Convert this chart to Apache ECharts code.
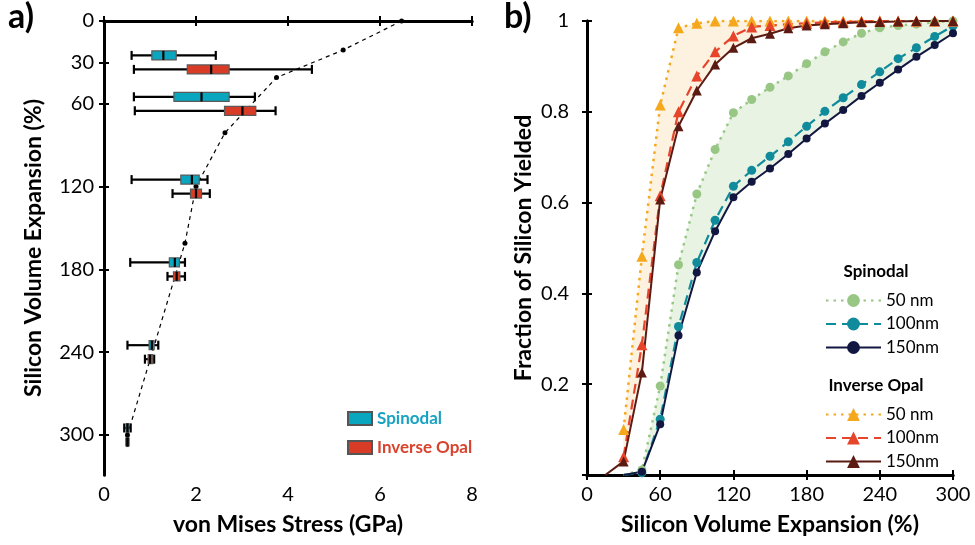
<!DOCTYPE html>
<html>
<head>
<meta charset="utf-8">
<script src="https://cdn.jsdelivr.net/npm/echarts@6/dist/echarts.min.js"></script>
<style>
  html, body { margin: 0; padding: 0; background: #fff; }
  #chart { width: 975px; height: 545px; }
</style>
</head>
<body>
<div id="chart"></div>
<script>
// ---- panel a) : stress box plots ----
var rowTicks = [0, 30, 60, 120, 180, 240, 300];
var expansionRows = [30, 60, 120, 180, 240, 300];
// [whisker low, q1, median, q3, whisker high]  (GPa)
var spinodalBoxes = [
  [0.60, 1.04, 1.29, 1.57, 2.43],
  [0.65, 1.52, 2.12, 2.72, 3.28],
  [0.60, 1.67, 1.91, 2.07, 2.25],
  [0.57, 1.42, 1.54, 1.64, 1.76],
  [0.51, 0.98, 1.04, 1.09, 1.18],
  [0.44, 0.48, 0.51, 0.54, 0.58]
];
var opalBoxes = [
  [0.65, 1.81, 2.33, 2.72, 4.52],
  [0.67, 2.62, 3.01, 3.30, 3.73],
  [1.49, 1.88, 2.00, 2.12, 2.30],
  [1.38, 1.51, 1.58, 1.65, 1.76],
  [0.89, 0.96, 1.00, 1.06, 1.09],
  [0.49, 0.50, 0.51, 0.52, 0.53]
];
// dashed trend line with dots
var trendExpansion = [0, 21, 41, 81, 120, 161, 300];
var trendStress = [6.47, 5.20, 3.75, 2.63, 2.00, 1.76, 0.51];

// ---- panel b) : fraction yielded ----
var expansion = [15, 30, 45, 60, 75, 90, 105, 120, 135, 150, 165, 180, 195, 210, 225, 240, 255, 270, 285, 300];
var sp50  = [null, 0, 0.011, 0.196, 0.463, 0.619, 0.717, 0.798, 0.827, 0.854, 0.879, 0.906, 0.932, 0.954, 0.973, 0.985, 0.990, 0.993, 0.997, 1.0];
var sp100 = [null, 0, 0.005, 0.123, 0.327, 0.468, 0.561, 0.636, 0.671, 0.702, 0.734, 0.768, 0.801, 0.831, 0.860, 0.888, 0.917, 0.941, 0.966, 0.989];
var sp150 = [null, 0, 0.007, 0.112, 0.307, 0.446, 0.537, 0.612, 0.646, 0.675, 0.707, 0.741, 0.774, 0.804, 0.835, 0.864, 0.893, 0.921, 0.947, 0.973];
var io50  = [null, 0.10, 0.482, 0.815, 0.985, 0.995, 1, 1, 1, 1, 1, 1, 1, 1, 1, 1, 1, 1, 1, 1];
var io100 = [null, 0.04, 0.287, 0.615, 0.800, 0.879, 0.932, 0.967, 0.987, 0.990, 0.993, 0.995, 0.997, 0.998, 0.999, 1, 1, 1, 1, 1];
var io150 = [0, 0.03, 0.226, 0.607, 0.768, 0.847, 0.904, 0.941, 0.962, 0.972, 0.984, 0.990, 0.993, 0.995, 0.997, 0.998, 0.999, 1, 1, 1];

var FONT = 'Lato';
var legendLabels = {
  'sp50': '50 nm', 'sp100': '100nm', 'sp150': '150nm',
  'io50': '50 nm', 'io100': '100nm', 'io150': '150nm'
};

function boxSeries(name, boxes, color, shift) {
  return {
    name: name,
    type: 'custom',
    xAxisIndex: 0,
    yAxisIndex: 0,
    z: 3,
    itemStyle: { color: color, borderColor: '#555', borderWidth: 1 },
    encode: { x: [1, 2, 3, 4, 5], y: 0 },
    data: expansionRows.map(function (r, i) { return [r].concat(boxes[i]); }),
    renderItem: function (params, api) {
      var row = api.value(0);
      var lo = api.coord([api.value(1), row]);
      var q1 = api.coord([api.value(2), row]);
      var md = api.coord([api.value(3), row]);
      var q3 = api.coord([api.value(4), row]);
      var hi = api.coord([api.value(5), row]);
      var y = lo[1] + shift, h = 9;
      function blk() { return { stroke: '#000', lineWidth: 2.2 }; }
      return {
        type: 'group',
        children: [
          { type: 'line', shape: { x1: lo[0], y1: y, x2: hi[0], y2: y }, style: blk() },
          { type: 'line', shape: { x1: lo[0], y1: y - h / 2, x2: lo[0], y2: y + h / 2 }, style: blk() },
          { type: 'line', shape: { x1: hi[0], y1: y - h / 2, x2: hi[0], y2: y + h / 2 }, style: blk() },
          { type: 'rect', shape: { x: q1[0], y: y - h / 2, width: q3[0] - q1[0], height: h },
            style: { fill: color, stroke: '#5a5a5a', lineWidth: 1.2 } },
          { type: 'line', shape: { x1: md[0], y1: y - h / 2, x2: md[0], y2: y + h / 2 }, style: blk() }
        ]
      };
    }
  };
}

function curve(name, values, color, lineType, width, symbol, size) {
  var pts = [];
  expansion.forEach(function (x, i) {
    if (values[i] == null) return;
    if (values[i] === 0) pts.push({ value: [x, 0], symbol: 'none' });
    else pts.push([x, values[i]]);
  });
  return {
    name: name,
    type: 'line',
    xAxisIndex: 2,
    yAxisIndex: 2,
    z: 4,
    data: pts,
    symbol: symbol,
    symbolSize: size,
    color: color,
    itemStyle: { color: color },
    lineStyle: { color: color, type: lineType, width: width },
    clip: true
  };
}

// shaded region between two curves, drawn as one polygon through the axis scales
function band(name, lower, upper, fill) {
  return {
    name: name,
    type: 'custom',
    xAxisIndex: 2,
    yAxisIndex: 2,
    z: 1,
    silent: true,
    data: [[0]],
    encode: { x: 0 },
    renderItem: function (params, api) {
      var top = [], bottom = [];
      expansion.forEach(function (x, i) {
        if (upper[i] == null || lower[i] == null) return;
        top.push(api.coord([x, upper[i]]));
        bottom.unshift(api.coord([x, lower[i]]));
      });
      return { type: 'polygon', shape: { points: top.concat(bottom) }, style: { fill: fill, stroke: fill, lineWidth: 0.5 } };
    }
  };
}

var tickStyle = { show: true, inside: false, length: 5, lineStyle: { color: '#000', width: 2 } };
var lineStyleAxis = { show: true, lineStyle: { color: '#000', width: 3 } };
var labelStyle = { color: '#000', fontSize: 20, fontFamily: FONT };
var nameStyle = { color: '#000', fontSize: 23, fontWeight: 'bold', fontFamily: FONT };

var chart = echarts.init(document.getElementById('chart'));

var option = {
  animation: false,
  backgroundColor: '#fff',
  grid: [
    { left: 104, top: 21, width: 368, height: 454 },
    { left: 587, top: 21, width: 366, height: 454 }
  ],
  xAxis: [
    { gridIndex: 0, type: 'value', min: 0, max: 8, interval: 2, position: 'bottom',
      axisLine: lineStyleAxis, axisTick: tickStyle, splitLine: { show: false },
      axisLabel: Object.assign({ margin: 10 }, labelStyle),
      name: 'von Mises Stress (GPa)', nameLocation: 'middle', nameGap: 38, nameTextStyle: nameStyle },
    { gridIndex: 0, type: 'value', min: 0, max: 8, interval: 2, position: 'top',
      axisLine: lineStyleAxis, axisTick: tickStyle, splitLine: { show: false }, axisLabel: { show: false } },
    { gridIndex: 1, type: 'value', min: 0, max: 300, interval: 60, position: 'bottom',
      axisLine: lineStyleAxis, axisTick: tickStyle, splitLine: { show: false },
      axisLabel: Object.assign({ margin: 10 }, labelStyle),
      name: 'Silicon Volume Expansion (%)', nameLocation: 'middle', nameGap: 38, nameTextStyle: nameStyle },
    { gridIndex: 1, type: 'value', min: 0, max: 300, interval: 60, position: 'top',
      axisLine: lineStyleAxis, axisTick: tickStyle, splitLine: { show: false }, axisLabel: { show: false } }
  ],
  yAxis: [
    { gridIndex: 0, type: 'value', min: 0, max: 329, inverse: true, position: 'left',
      axisLine: lineStyleAxis,
      axisTick: Object.assign({ customValues: rowTicks }, tickStyle),
      axisLabel: Object.assign({ margin: 10, customValues: rowTicks }, labelStyle),
      splitLine: { show: false },
      name: 'Silicon Volume Expansion (%)', nameLocation: 'middle', nameGap: 59, nameTextStyle: nameStyle },
    { gridIndex: 0, type: 'value', min: 0, max: 329, inverse: true, position: 'right',
      axisLine: lineStyleAxis,
      axisTick: Object.assign({ customValues: rowTicks }, tickStyle),
      axisLabel: { show: false }, splitLine: { show: false } },
    { gridIndex: 1, type: 'value', min: 0, max: 1, interval: 0.2, position: 'left',
      axisLine: lineStyleAxis, axisTick: tickStyle, splitLine: { show: false },
      axisLabel: Object.assign({ margin: 18, formatter: function (v) { return v === 0 ? '' : String(+v.toFixed(1)); } }, labelStyle),
      name: 'Fraction of Silicon Yielded', nameLocation: 'middle', nameGap: 52, nameTextStyle: nameStyle },
    { gridIndex: 1, type: 'value', min: 0, max: 1, interval: 0.2, position: 'right',
      axisLine: lineStyleAxis, axisTick: tickStyle, splitLine: { show: false }, axisLabel: { show: false } }
  ],
  legend: [
    { left: 342, top: 405, orient: 'vertical', icon: 'rect', itemWidth: 24, itemHeight: 13, itemGap: 12,
      textStyle: { fontSize: 17, fontWeight: 'bold', fontFamily: FONT },
      data: [
        { name: 'Spinodal', textStyle: { color: '#19a3c1' } },
        { name: 'Inverse Opal', textStyle: { color: '#d9432d' } }
      ] },
    { left: 820, top: 287, orient: 'vertical', itemWidth: 55, itemHeight: 16, itemGap: 6.5,
      textStyle: { fontSize: 17, color: '#000', fontFamily: FONT },
      formatter: function (n) { return legendLabels[n]; },
      data: ['sp50', 'sp100', 'sp150'] },
    { left: 820, top: 401, orient: 'vertical', itemWidth: 55, itemHeight: 16, itemGap: 6.5,
      textStyle: { fontSize: 17, color: '#000', fontFamily: FONT },
      formatter: function (n) { return legendLabels[n]; },
      data: ['io50', 'io100', 'io150'] }
  ],
  graphic: [
    { type: 'text', left: 8, top: 0, z: 100, style: { text: 'a)', fontSize: 34, fontWeight: 'bold', fontFamily: FONT, fill: '#000' } },
    { type: 'text', left: 504, top: 0, z: 100, style: { text: 'b)', fontSize: 34, fontWeight: 'bold', fontFamily: FONT, fill: '#000' } },
    { type: 'text', x: 876, y: 272, z: 100, style: { text: 'Spinodal', fontSize: 17, fontWeight: 'bold', fontFamily: FONT, fill: '#000', align: 'center', verticalAlign: 'middle' } },
    { type: 'text', x: 876, y: 386, z: 100, style: { text: 'Inverse Opal', fontSize: 17, fontWeight: 'bold', fontFamily: FONT, fill: '#000', align: 'center', verticalAlign: 'middle' } }
  ],
  series: [
    {
      name: 'trend', type: 'line', xAxisIndex: 0, yAxisIndex: 0, z: 2,
      data: trendExpansion.map(function (r, i) { return [trendStress[i], r]; }),
      symbol: 'circle', symbolSize: 5, color: '#000',
      lineStyle: { color: '#000', width: 1.2, type: [4, 4] }
    },
    boxSeries('Spinodal', spinodalBoxes, '#0aa6bf', -7),
    boxSeries('Inverse Opal', opalBoxes, '#d83c27', 7),
    band('ioBand', io150, io50, '#fdf1df'),
    band('spBand', sp150, sp50, '#e8f3e3'),
    curve('sp50', sp50, '#98c785', [2.5, 5], 2.5, 'circle', 9),
    curve('sp100', sp100, '#108b9b', [10, 6], 2.2, 'circle', 9),
    curve('sp150', sp150, '#121741', 'solid', 2, 'circle', 8),
    curve('io50', io50, '#f6a81d', [2.5, 5], 2.5, 'triangle', 11),
    curve('io100', io100, '#e6442b', [10, 6], 2.2, 'triangle', 11),
    curve('io150', io150, '#5b1b13', 'solid', 2, 'triangle', 10)
  ]
};

chart.setOption(option);
</script>
</body>
</html>
